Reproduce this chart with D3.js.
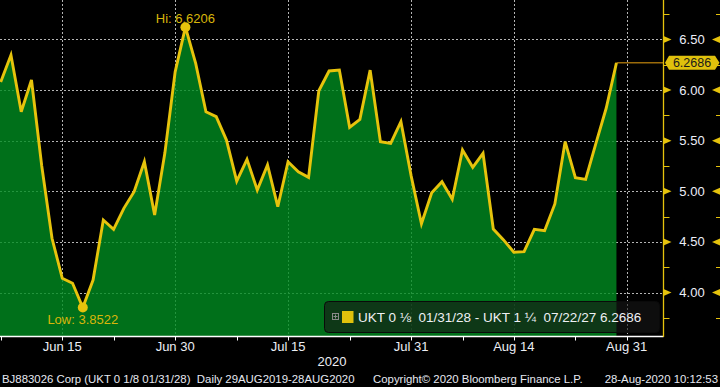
<!DOCTYPE html>
<html>
<head>
<meta charset="utf-8">
<script src="https://cdn.jsdelivr.net/npm/d3@7/dist/d3.min.js"></script>
<style>
  html, body { margin: 0; padding: 0; background: #000; }
  svg { display: block; font-family: "Liberation Sans", Arial, sans-serif; }
  text { white-space: pre; }
</style>
</head>
<body>
<svg id="chart" width="720" height="387"></svg>
<script>
// trading days shown in the window
const dates = [
  "2020-06-05",
  "2020-06-08", "2020-06-09", "2020-06-10", "2020-06-11", "2020-06-12",
  "2020-06-15", "2020-06-16", "2020-06-17", "2020-06-18", "2020-06-19",
  "2020-06-22", "2020-06-23", "2020-06-24", "2020-06-25", "2020-06-26",
  "2020-06-29", "2020-06-30", "2020-07-01", "2020-07-02", "2020-07-03",
  "2020-07-06", "2020-07-07", "2020-07-08", "2020-07-09", "2020-07-10",
  "2020-07-13", "2020-07-14", "2020-07-15", "2020-07-16", "2020-07-17",
  "2020-07-20", "2020-07-21", "2020-07-22", "2020-07-23", "2020-07-24",
  "2020-07-27", "2020-07-28", "2020-07-29", "2020-07-30", "2020-07-31",
  "2020-08-03", "2020-08-04", "2020-08-05", "2020-08-06", "2020-08-07",
  "2020-08-10", "2020-08-11", "2020-08-12", "2020-08-13", "2020-08-14",
  "2020-08-17", "2020-08-18", "2020-08-19", "2020-08-20", "2020-08-21",
  "2020-08-24", "2020-08-25", "2020-08-26", "2020-08-27", "2020-08-28"
];

// spread UKT 0 1/8 01/31/28 - UKT 1 1/4 07/22/27
const values = [
  6.08,
  6.345, 5.786, 6.099, 5.25, 4.536,
  4.141, 4.092, 3.8522, 4.124, 4.717,
  4.625, 4.832, 4.996, 5.292, 4.766,
  5.38, 6.18, 6.6206, 6.263, 5.786,
  5.737, 5.506, 5.10, 5.316, 5.013,
  5.26, 4.848, 5.292, 5.193, 5.138,
  5.993, 6.188, 6.197, 5.632, 5.711,
  6.197, 5.49, 5.474, 5.687, 5.15,
  4.68, 4.986, 5.095, 4.921, 5.408,
  5.237, 5.375, 4.628, 4.52, 4.398,
  4.404, 4.625, 4.611, 4.875, 5.49,
  5.134, 5.118, 5.474, 5.82, 6.2686
];

const axisEndDate = "2020-08-31";
const xTickDates = ["2020-06-15", "2020-06-30", "2020-07-15", "2020-07-31", "2020-08-14", "2020-08-31"];
const xTickLabels = ["Jun 15", "Jun 30", "Jul 15", "Jul 31", "Aug 14", "Aug 31"];
const xMinorDates = ["2020-06-05", "2020-06-22", "2020-07-08", "2020-07-23", "2020-08-07", "2020-08-24"];
const yTicks = [4.0, 4.5, 5.0, 5.5, 6.0, 6.5];
const yMinor = [3.75, 4.25, 4.75, 5.25, 5.75, 6.25, 6.75];

const yearLabel = "2020";
const legendText = "UKT 0 \u215B  01/31/28 - UKT 1 \u00BC  07/22/27 6.2686";
const footerLeft = "BJ883026 Corp (UKT 0 1/8 01/31/28)  Daily 29AUG2019-28AUG2020";
const footerMid = "Copyright\u00A9 2020 Bloomberg Finance L.P.";
const footerRight = "28-Aug-2020 10:12:53";

const svg = d3.select("#chart");
const W = 720, H = 387;
const plotRight = 663.5, plotBottom = 336.5;

svg.append("rect").attr("width", W).attr("height", H).attr("fill", "#000");

const x = d3.scalePoint()
  .domain(dates.concat([axisEndDate]))
  .range([0.7, 626.7]);

const y = d3.scaleLinear()
  .domain([4.0, 6.5])
  .range([292.6, 39.4]);

const data = dates.map((d, i) => ({ date: d, value: values[i] }));

svg.append("defs").append("clipPath").attr("id", "plotclip")
  .append("rect").attr("x", 0).attr("y", 0)
  .attr("width", plotRight).attr("height", plotBottom);

const plot = svg.append("g").attr("clip-path", "url(#plotclip)");

// grid
const gridColor = "#b4b4b4";
plot.append("g").selectAll("line").data(yTicks).join("line")
  .attr("x1", 0).attr("x2", plotRight)
  .attr("y1", d => Math.round(y(d)) + 0.5).attr("y2", d => Math.round(y(d)) + 0.5)
  .attr("stroke", gridColor).attr("stroke-width", 1).attr("stroke-dasharray", "2,2");

plot.append("g").selectAll("line").data(xTickDates).join("line")
  .attr("x1", d => Math.round(x(d)) + 0.5).attr("x2", d => Math.round(x(d)) + 0.5)
  .attr("y1", 0).attr("y2", plotBottom)
  .attr("stroke", gridColor).attr("stroke-width", 1).attr("stroke-dasharray", "2,2");

// area (first point pushed slightly left so fill reaches the edge)
plot.append("path")
  .datum([data[0]].concat(data))
  .attr("d", d3.area().x((d, i) => i === 0 ? -2 : x(d.date)).y0(plotBottom).y1(d => y(d.value)))
  .attr("fill", "rgb(0,140,32)")
  .attr("fill-opacity", 0.8);

// last value line
const last = data[data.length - 1];
plot.append("line")
  .attr("x1", x(last.date)).attr("x2", plotRight)
  .attr("y1", y(last.value)).attr("y2", y(last.value))
  .attr("stroke", "#e8a010").attr("stroke-width", 1);

// line
const lineColor = "#e6c30c";
plot.append("path")
  .datum(data)
  .attr("d", d3.line().x(d => x(d.date)).y(d => y(d.value)))
  .attr("fill", "none")
  .attr("stroke", lineColor)
  .attr("stroke-width", 2.9)
  .attr("stroke-linejoin", "miter");

// hi / low markers
const hiIdx = d3.maxIndex(values), loIdx = d3.minIndex(values);
const hi = data[hiIdx], lo = data[loIdx];
plot.append("circle").attr("cx", x(hi.date)).attr("cy", y(hi.value)).attr("r", 5).attr("fill", lineColor);
plot.append("circle").attr("cx", x(lo.date)).attr("cy", y(lo.value)).attr("r", 5).attr("fill", lineColor);

svg.append("text")
  .attr("x", x(hi.date)).attr("y", y(hi.value) - 4)
  .attr("text-anchor", "middle")
  .attr("fill", "#d8b60a").style("font-size", "13px")
  .text("Hi: " + d3.format(".4f")(hi.value));

svg.append("text")
  .attr("x", x(lo.date)).attr("y", y(lo.value) + 16)
  .attr("text-anchor", "middle")
  .attr("fill", "#d8b60a").style("font-size", "13px")
  .text("Low: " + d3.format(".4f")(lo.value));

// legend
const lg = svg.append("g");
lg.append("rect")
  .attr("x", 324.5).attr("y", 301.5).attr("width", 335).attr("height", 31)
  .attr("rx", 4)
  .attr("fill", "rgba(22,22,22,0.62)")
  .attr("stroke", "#0a0a0a").attr("stroke-width", 1);
lg.append("rect")
  .attr("x", 332.5).attr("y", 313.5).attr("width", 6).attr("height", 6)
  .attr("fill", "none").attr("stroke", "#8a8a8a");
lg.append("path")
  .attr("d", "M333.5,316.5h4M335.5,314.5v4")
  .attr("stroke", "#8a8a8a");
lg.append("rect")
  .attr("x", 342).attr("y", 311).attr("width", 11.5).attr("height", 12)
  .attr("fill", "#e0c10c");
lg.append("text")
  .attr("x", 358).attr("y", 322)
  .attr("fill", "#eef0f4").style("font-size", "13.5px")
  .text(legendText);

// x axis
const xAxisG = svg.append("g");
xAxisG.append("line")
  .attr("x1", 0).attr("x2", plotRight)
  .attr("y1", plotBottom).attr("y2", plotBottom)
  .attr("stroke", "#ffffff").attr("stroke-width", 1.5);
xAxisG.selectAll(".maj").data(xTickDates).join("line")
  .attr("x1", d => Math.round(x(d)) + 0.5).attr("x2", d => Math.round(x(d)) + 0.5)
  .attr("y1", plotBottom).attr("y2", plotBottom + 4)
  .attr("stroke", "#fff");
xAxisG.selectAll(".min").data(xMinorDates).join("line")
  .attr("x1", d => Math.round(x(d)) + 0.5).attr("x2", d => Math.round(x(d)) + 0.5)
  .attr("y1", plotBottom).attr("y2", plotBottom + 4)
  .attr("stroke", "#fff");
xAxisG.selectAll("text").data(xTickDates).join("text")
  .attr("x", d => x(d)).attr("y", 351)
  .attr("text-anchor", "middle")
  .attr("fill", "#eceef4").style("font-size", "13px")
  .text((d, i) => xTickLabels[i]);
svg.append("text")
  .attr("x", 332).attr("y", 366)
  .attr("text-anchor", "middle")
  .attr("fill", "#eceef4").style("font-size", "13px")
  .text(yearLabel);

// right y axis
const axisColor = "#e6c30c";
const yAxisG = svg.append("g");
yAxisG.append("line")
  .attr("x1", plotRight).attr("x2", plotRight)
  .attr("y1", 0).attr("y2", plotBottom + 0.5)
  .attr("stroke", axisColor).attr("stroke-width", 1.3);
yAxisG.selectAll(".tri").data(yTicks).join("path")
  .attr("d", d => `M${plotRight},${y(d) - 3.5}L${plotRight + 8},${y(d)}L${plotRight},${y(d) + 3.5}Z`)
  .attr("fill", axisColor);
yAxisG.selectAll(".tri2").data(yTicks).join("path")
  .attr("d", d => `M720,${y(d) - 3.5}L712,${y(d)}L720,${y(d) + 3.5}Z`)
  .attr("fill", axisColor);
yAxisG.selectAll(".mn").data(yMinor).join("line")
  .attr("x1", plotRight).attr("x2", plotRight + 6)
  .attr("y1", d => Math.round(y(d)) + 0.5).attr("y2", d => Math.round(y(d)) + 0.5)
  .attr("stroke", axisColor);
yAxisG.selectAll(".mn2").data(yMinor).join("line")
  .attr("x1", 716).attr("x2", 720)
  .attr("y1", d => Math.round(y(d)) + 0.5).attr("y2", d => Math.round(y(d)) + 0.5)
  .attr("stroke", axisColor);
yAxisG.selectAll("text").data(yTicks).join("text")
  .attr("x", 692).attr("y", d => y(d) + 4.5)
  .attr("text-anchor", "middle")
  .attr("fill", "#eceef8").style("font-size", "13px")
  .text(d => d3.format(".2f")(d));

// last value tag
const ly = y(last.value);
yAxisG.append("path")
  .attr("d", `M665,${ly}L669,${ly - 7}L715,${ly - 7}L719.5,${ly}L715,${ly + 7}L669,${ly + 7}Z`)
  .attr("fill", "#e0c10c");
yAxisG.append("text")
  .attr("x", 692).attr("y", ly + 4.5)
  .attr("text-anchor", "middle")
  .attr("fill", "#1a1a1a").style("font-size", "12.5px")
  .text(d3.format(".4f")(last.value));

// footer
svg.append("text").attr("x", 2).attr("y", 383)
  .attr("fill", "#e6e8f0").style("font-size", "11.4px").text(footerLeft);
svg.append("text").attr("x", 373).attr("y", 383)
  .attr("fill", "#e6e8f0").style("font-size", "11.4px").text(footerMid);
svg.append("text").attr("x", 718).attr("y", 383).attr("text-anchor", "end")
  .attr("fill", "#e6e8f0").style("font-size", "11.4px").text(footerRight);
</script>
</body>
</html>
